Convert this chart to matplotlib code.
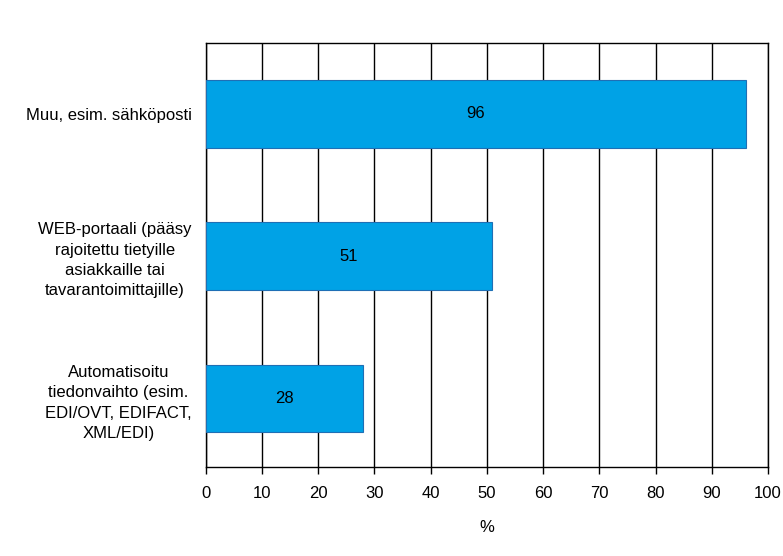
import matplotlib
matplotlib.use("Agg")
import matplotlib.pyplot as plt

categories = [
    "Automatisoitu\ntiedonvaihto (esim.\nEDI/OVT, EDIFACT,\nXML/EDI)",
    "WEB-portaali (pääsy\nrajoitettu tietyille\nasiakkaille tai\ntavarantoimittajille)",
    "Muu, esim. sähköposti",
]
values = [28, 51, 96]
xticks = list(range(0, 101, 10))

plt.rcParams['font.family'] = ['Liberation Sans', 'DejaVu Sans']
FS = 12

fig = plt.figure(figsize=(7.83, 5.56), dpi=100)
ax = fig.add_axes([205.5/783, 1 - 467/556, (768 - 205.5)/783, (467 - 42.5)/556])

ypos = list(range(len(categories)))
ax.barh(ypos, values, height=0.475, color='#00A2E6', edgecolor='#1F6FB5', linewidth=0.8, zorder=3)
for y, v in zip(ypos, values):
    ax.text(v / 2, y, str(v), ha='center', va='center', fontsize=FS, color='black', zorder=4)

ax.set_xlim(0, 100)
ax.set_ylim(-0.48, 2.5)
ax.set_xticks(xticks)
ax.set_xticklabels([str(t) for t in xticks], fontsize=FS)
ax.set_yticks(ypos)
ax.set_yticklabels(categories, fontsize=FS, multialignment='center', linespacing=1.45)
ax.tick_params(axis='y', length=0, pad=10)
ax.tick_params(axis='x', length=5, width=1, pad=9, direction='out')
ax.xaxis.grid(True, color='black', linewidth=1, zorder=0)
ax.set_axisbelow(True)
for s in ax.spines.values():
    s.set_color('black')
    s.set_linewidth(1)
ax.set_xlabel('%', fontsize=FS, labelpad=13)

fig.savefig('out.png', dpi=100)
